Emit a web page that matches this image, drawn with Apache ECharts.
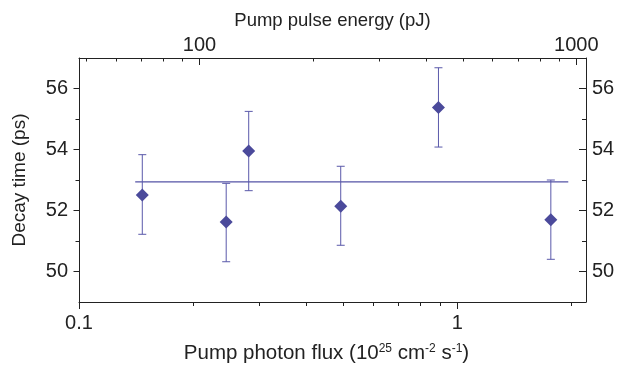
<!DOCTYPE html>
<html>
<head>
<meta charset="utf-8">
<script src="https://cdn.jsdelivr.net/npm/echarts@6/dist/echarts.min.js"></script>
<style>
  html, body { margin: 0; padding: 0; background: #fff; }
  #chart-container { width: 618px; height: 369px; }
</style>
</head>
<body>
<div id="chart-container"></div>
<script>
// pump photon flux (10^25 cm^-2 s^-1)
const flux = [0.147, 0.245, 0.281, 0.492, 0.892, 1.768];
// decay time (ps) and error bar ends
const decay = [52.51, 51.62, 53.95, 52.14, 55.38, 51.70];
const errLow = [51.22, 50.32, 52.65, 50.86, 54.08, 50.40];
const errHigh = [53.83, 52.89, 55.25, 53.45, 56.68, 53.00];
// horizontal fit
const fitX = [0.1408, 1.966];
const fitY = [52.94, 52.94];

// tick positions
const fluxMajor = [0.1, 1];
const fluxMinor = [0.2, 0.3, 0.4, 0.5, 0.6, 0.7, 0.8, 0.9, 2];
const energyMajor = [100, 1000];
const energyMinor = [50, 60, 70, 80, 90, 200, 300, 400, 500, 600, 700, 800, 900];
const yMajor = [50, 52, 54, 56];
const yMinor = [51, 53, 55];

const col = '#4b4a9b';
const axisCol = '#222';
const font = 'Liberation Sans, Arial, sans-serif';

const chart = echarts.init(document.getElementById('chart-container'), null, { renderer: 'canvas' });

const lbl = { color: axisCol, fontSize: 20, fontFamily: font, formatter: v => String(v) };

const option = {
  animation: false,
  grid: { left: 79, right: 32, top: 58, bottom: 64 },
  xAxis: [
    {
      type: 'log', position: 'bottom', min: 0.1, max: 2.19,
      name: 'Pump photon flux (10{sup|25} cm{sup|-2} s{sup|-1})',
      nameLocation: 'middle', nameGap: 41,
      nameTextStyle: {
        color: axisCol, fontSize: 20.5, fontFamily: font, padding: [0, 12, 0, 0],
        rich: { sup: { fontSize: 12, fontFamily: font, color: axisCol, verticalAlign: 'top', padding: [0, 0, 8, 0] } }
      },
      axisLine: { show: true, lineStyle: { color: axisCol, width: 1 } },
      axisTick: { show: true, inside: false, length: 7, customValues: fluxMajor, lineStyle: { color: axisCol } },
      axisLabel: Object.assign({ margin: 11, customValues: fluxMajor }, lbl),
      splitLine: { show: false }
    },
    {
      type: 'log', position: 'bottom', min: 0.1, max: 2.19,
      axisLine: { show: false },
      axisTick: { show: true, inside: false, length: 4, customValues: fluxMinor, lineStyle: { color: axisCol } },
      axisLabel: { show: false },
      splitLine: { show: false }
    },
    {
      type: 'log', position: 'top', min: 47.9, max: 1061,
      name: 'Pump pulse energy (pJ)',
      nameLocation: 'middle', nameGap: 27,
      nameTextStyle: { color: axisCol, fontSize: 18.5, fontFamily: font },
      axisLine: { show: true, lineStyle: { color: axisCol, width: 1 } },
      axisTick: { show: true, inside: true, length: 7, customValues: energyMajor, lineStyle: { color: axisCol } },
      axisLabel: Object.assign({ margin: 3, customValues: energyMajor }, lbl),
      splitLine: { show: false }
    },
    {
      type: 'log', position: 'top', min: 47.9, max: 1061,
      axisLine: { show: false },
      axisTick: { show: true, inside: true, length: 3.5, customValues: energyMinor, lineStyle: { color: axisCol } },
      axisLabel: { show: false },
      splitLine: { show: false }
    }
  ],
  yAxis: [
    {
      type: 'value', position: 'left', min: 49, max: 57,
      name: 'Decay time (ps)', nameLocation: 'middle', nameGap: 50,
      nameTextStyle: { color: axisCol, fontSize: 19, fontFamily: font },
      axisLine: { show: true, lineStyle: { color: axisCol, width: 1 } },
      axisTick: { show: true, inside: false, length: 5.5, customValues: yMajor, lineStyle: { color: axisCol } },
      axisLabel: Object.assign({ margin: 11, customValues: yMajor }, lbl),
      splitLine: { show: false }
    },
    {
      type: 'value', position: 'left', min: 49, max: 57,
      axisLine: { show: false },
      axisTick: { show: true, inside: false, length: 3.5, customValues: yMinor, lineStyle: { color: axisCol } },
      axisLabel: { show: false },
      splitLine: { show: false }
    },
    {
      type: 'value', position: 'right', min: 49, max: 57,
      axisLine: { show: true, lineStyle: { color: axisCol, width: 1 } },
      axisTick: { show: true, inside: true, length: 7, customValues: yMajor, lineStyle: { color: axisCol } },
      axisLabel: Object.assign({ margin: 6, customValues: yMajor }, lbl),
      splitLine: { show: false }
    },
    {
      type: 'value', position: 'right', min: 49, max: 57,
      axisLine: { show: false },
      axisTick: { show: true, inside: true, length: 4, customValues: yMinor, lineStyle: { color: axisCol } },
      axisLabel: { show: false },
      splitLine: { show: false }
    }
  ],
  series: [
    {
      // fitted constant
      type: 'line', xAxisIndex: 0, yAxisIndex: 0,
      data: fitX.map((x, i) => [x, fitY[i]]),
      showSymbol: false, symbol: 'none',
      lineStyle: { color: '#5553a6', width: 1.2 },
      z: 2
    },
    {
      // error bars
      type: 'custom', xAxisIndex: 0, yAxisIndex: 0,
      data: flux.map((x, i) => [x, errLow[i], errHigh[i]]),
      encode: { x: 0, y: [1, 2] },
      renderItem: function (params, api) {
        const x = api.value(0);
        const lo = api.coord([x, api.value(1)]);
        const hi = api.coord([x, api.value(2)]);
        const w = 4;
        const st = { stroke: '#5a59aa', lineWidth: 1 };
        return {
          type: 'group',
          children: [
            { type: 'line', shape: { x1: lo[0], y1: lo[1], x2: hi[0], y2: hi[1] }, style: st },
            { type: 'line', shape: { x1: lo[0] - w, y1: lo[1], x2: lo[0] + w, y2: lo[1] }, style: st },
            { type: 'line', shape: { x1: hi[0] - w, y1: hi[1], x2: hi[0] + w, y2: hi[1] }, style: st }
          ]
        };
      },
      z: 3
    },
    {
      type: 'scatter', xAxisIndex: 0, yAxisIndex: 0,
      data: flux.map((x, i) => [x, decay[i]]),
      symbol: 'diamond', symbolSize: 13,
      itemStyle: { color: col, opacity: 1 },
      z: 4
    }
  ]
};

chart.setOption(option);
</script>
</body>
</html>
